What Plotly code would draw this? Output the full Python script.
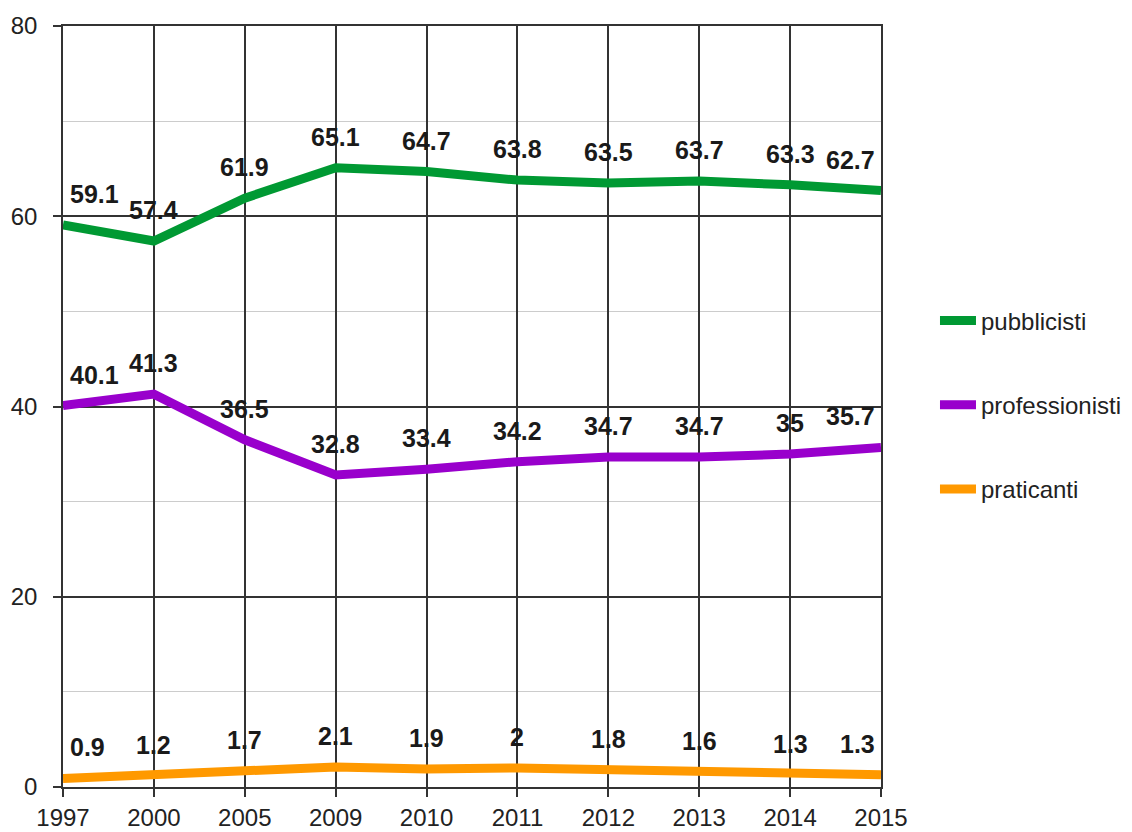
import plotly.graph_objects as go

# data
years = ['1997', '2000', '2005', '2009', '2010', '2011', '2012', '2013', '2014', '2015']
pubblicisti = [59.1, 57.4, 61.9, 65.1, 64.7, 63.8, 63.5, 63.7, 63.3, 62.7]
professionisti = [40.1, 41.3, 36.5, 32.8, 33.4, 34.2, 34.7, 34.7, 35, 35.7]
praticanti = [0.9, 1.2, 1.7, 2.1, 1.9, 2, 1.8, 1.6, 1.3, 1.3]

series = [
    ('pubblicisti', pubblicisti, '#009933'),
    ('professionisti', professionisti, '#9900cc'),
    ('praticanti', praticanti, '#ff9900'),
]

FONT = 'Liberation Sans, Arial, sans-serif'
DARK = '#222222'

fig = go.Figure()

annotations = []
for name, vals, color in series:
    fig.add_trace(go.Scatter(
        x=years, y=vals, name=name, mode='lines',
        line=dict(color=color, width=9),
        legendgroup=name,
    ))
    for j, v in enumerate(vals):
        xanchor, xshift = 'center', 0
        if j == 0:
            xanchor, xshift = 'left', 5
        elif j == len(vals) - 1:
            xanchor, xshift = 'right', -4
        annotations.append(dict(
            x=j, y=v, xref='x', yref='y',
            text='<b>{:g}</b>'.format(v), showarrow=False,
            xanchor=xanchor, yanchor='middle', xshift=xshift, yshift=31,
            font=dict(family=FONT, size=25, color='#1a1a1a'),
        ))

# the page body adds an 8px offset, so the figure is slightly smaller
fig.update_layout(
    width=1124, height=824,
    margin=dict(l=55, r=251, t=18, b=45, autoexpand=False),
    paper_bgcolor='white', plot_bgcolor='white',
    font=dict(family=FONT, size=24, color=DARK),
    annotations=annotations,
    showlegend=True,
    legend=dict(
        x=1.066, y=0.502, xanchor='left', yanchor='middle',
        xref='paper', yref='paper',
        tracegroupgap=50, itemwidth=36,
        font=dict(family=FONT, size=24, color=DARK),
        bgcolor='rgba(0,0,0,0)',
    ),
    xaxis=dict(
        type='category', range=[0, 9], automargin=False,
        showgrid=True, gridcolor='#333333', gridwidth=1.5,
        ticks='outside', ticklen=8, tickcolor='#333333', tickwidth=1.5,
        showline=True, linecolor='#333333', linewidth=1.5, mirror=True,
        tickfont=dict(family=FONT, size=24, color=DARK),
    ),
    yaxis=dict(
        range=[0, 80], dtick=20, tick0=0, automargin=False,
        showgrid=True, gridcolor='#333333', gridwidth=1.5,
        zeroline=False,
        ticks='outside', ticklen=8, tickcolor='#333333', tickwidth=1.5,
        ticklabelstandoff=11,
        showline=True, linecolor='#333333', linewidth=1.5, mirror=True,
        tickfont=dict(family=FONT, size=24, color=DARK),
        minor=dict(dtick=10, showgrid=True, gridcolor='#cccccc', gridwidth=1, ticks=''),
    ),
)

fig.write_html('out.html')
